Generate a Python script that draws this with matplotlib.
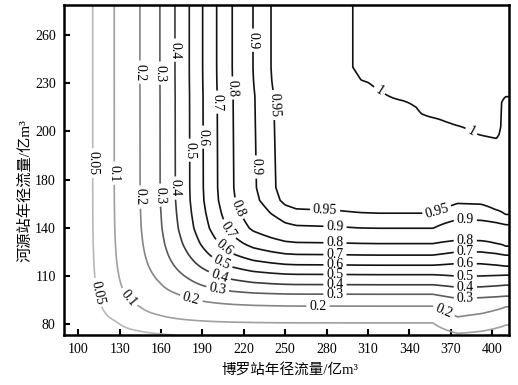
import numpy as np
import matplotlib.pyplot as plt

plt.rcParams['font.family'] = ['Liberation Serif', 'Noto Sans CJK SC']

# cumulative probability nodes shared by both marginal tables
prob = [0, 0.05, 0.1, 0.2, 0.3, 0.4, 0.5, 0.6, 0.7, 0.8, 0.9, 0.95, 0.98, 0.99, 0.995, 1.0, 1.002]

# 博罗站 annual runoff (亿m3) at each probability node
boluo_q = [75, 110.4, 126.1, 144.7, 159.2, 170.1, 180.5, 190.2, 200.4, 211.7, 226.9, 240.2, 250, 258, 290, 305, 318]

# 河源站 annual runoff at each probability node, for several 博罗站 sections
section_x = [310, 335, 357, 375, 392, 403, 410]
heyuan_310 = [55, 72.0, 80.8, 91.2, 98.6, 104.5, 110.8, 116.7, 123.0, 130.2, 139.8, 149.4, 157, 165, 222, 232, 240]
heyuan_335 = [55, 72.0, 80.8, 91.2, 98.6, 104.5, 110.8, 116.7, 123.0, 130.2, 139.8, 149.4, 157, 165, 215, 222, 228]
heyuan_357 = [55, 72.0, 80.8, 91.2, 98.6, 104.5, 110.8, 116.7, 123.0, 130.2, 139.8, 149.4, 157, 165, 205, 211, 216]
heyuan_375 = [55, 68.0, 74.2, 84.5, 96.0, 102.9, 109.9, 117.8, 125.0, 132.3, 145.2, 155.5, 163, 171, 200, 206, 211]
heyuan_392 = [55, 69.0, 75.5, 86.5, 96.5, 103.2, 110.0, 117.6, 125.0, 132.0, 144.8, 155.0, 162, 170, 194, 200, 205]
heyuan_403 = [55, 70.0, 77.5, 88.8, 97.0, 103.8, 110.3, 116.8, 124.0, 130.3, 143.4, 151.5, 160, 168, 192, 198, 203]
heyuan_410 = [55, 71.0, 79.4, 90.8, 97.4, 104.3, 110.5, 116.1, 123.0, 128.6, 142.1, 148.5, 157, 165, 218, 224, 230]

# Clayton copula parameter
theta = 0.8

levels = [0.05, 0.1, 0.2, 0.3, 0.4, 0.5, 0.6, 0.7, 0.8, 0.9, 0.95, 1.0]
line_colors = ['#b8b8b8', '#a0a0a0', '#858585', '#5c5c5c', '#3a3a3a', '#1a1a1a',
               '#111111', '#111111', '#111111', '#111111', '#111111', '#111111']

x_ticks = [100, 130, 160, 190, 220, 250, 280, 310, 340, 370, 400]
y_ticks = [80, 110, 140, 170, 200, 230, 260]
y_tick_labels = ['80', '110', '140', '180', '200', '230', '260']

# grid and joint probability surface
xg = np.linspace(89.6, 412.3, 420)
yg = np.linspace(73.2, 278.7, 420)
X, Y = np.meshgrid(xg, yg)

u = np.interp(xg, boluo_q, prob)
sections = [heyuan_310, heyuan_335, heyuan_357, heyuan_375, heyuan_392, heyuan_403, heyuan_410]
v_sec = np.array([np.interp(yg, s, prob) for s in sections])
V = np.array([np.interp(xg, section_x, v_sec[:, i]) for i in range(len(yg))])
U = np.tile(u, (len(yg), 1))

U = np.clip(U, 1e-6, None)
V = np.clip(V, 1e-6, None)
Z = (U ** -theta + V ** -theta - 1) ** (-1 / theta)

fig = plt.figure(figsize=(5.18, 3.85), dpi=100)
ax = fig.add_axes([0.1236, 0.1299, 0.859, 0.8571])

label_spots = {
    0.05: [(110.7, 180.2), (112.2, 99.3)],
    0.1: [(126.0, 174.0), (136.1, 96.2)],
    0.2: [(145.5, 236.9), (144.7, 159.1), (181.0, 93.1), (273.8, 91.8), (364.5, 86.8)],
    0.3: [(159.2, 236.3), (157.8, 160.3), (200.6, 99.9), (286.1, 98.1), (380.6, 97.4)],
    0.4: [(170.1, 250.6), (170.1, 164.7), (201.3, 106.8), (286.1, 104.3), (380.6, 104.3)],
    0.5: [(180.3, 188.3), (202.8, 116.1), (286.1, 110.5), (380.6, 111.1)],
    0.6: [(190.4, 196.4), (204.2, 126.1), (286.1, 116.7), (380.6, 119.2)],
    0.7: [(199.9, 218.2), (206.4, 137.3), (286.1, 123.0), (380.6, 125.5)],
    0.8: [(211.5, 227.0), (212.9, 151.0), (286.1, 130.4), (380.6, 132.9)],
    0.9: [(228.1, 256.8), (227.4, 177.8), (286.1, 139.2), (380.6, 144.8)],
    0.95: [(240.5, 216.4), (278.9, 149.7), (358.7, 152.8)],
    1.0: [(318.6, 225.7), (387.6, 203.9)],
}

# one contour set per level so each label lands on its own line
for lev, col in zip(levels, line_colors):
    cs = ax.contour(X, Y, Z, levels=[lev], colors=[col], linewidths=1.2)
    ax.clabel(cs, manual=label_spots[lev], fontsize=10, inline_spacing=3,
              fmt=lambda val: f'{val:g}', colors='black')

ax.set_xlim(89.6, 412.3)
ax.set_ylim(73.2, 278.7)
ax.set_xticks(x_ticks)
ax.set_yticks(y_ticks)
ax.set_yticklabels(y_tick_labels)
ax.tick_params(direction='in', length=4, width=1.5, labelsize=10, pad=6)
for side in ax.spines.values():
    side.set_linewidth(1.8)

ax.set_xlabel('博罗站年径流量/亿m³', fontsize=10.5)
ax.set_ylabel('河源站年径流量/亿m³', fontsize=11)
ax.xaxis.set_label_coords(0.508, -0.088)
ax.yaxis.set_label_coords(-0.072, 0.436)

fig.savefig('out.png', dpi=100)
